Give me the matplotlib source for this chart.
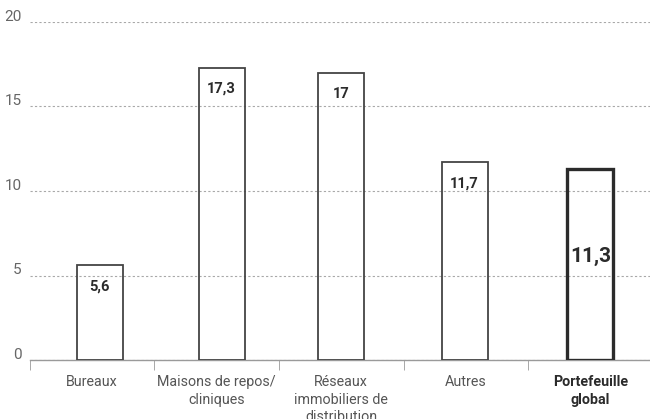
import numpy as np
import matplotlib.pyplot as plt
from matplotlib.transforms import ScaledTranslation

plt.rcParams['font.family'] = ['Roboto', 'DejaVu Sans']

categories = ["Bureaux", "Maisons de repos/\ncliniques", "Réseaux\nimmobiliers de\ndistribution", "Autres", "Portefeuille\nglobal"]
values = [5.6, 17.3, 17.0, 11.7, 11.3]
value_labels = ["5,6", "17,3", "17", "11,7", "11,3"]

fig = plt.figure(figsize=(6.5, 4.19), dpi=100)
ax = fig.add_axes([0.046, 0.1408, 0.958, 0.8067])

x = np.arange(len(categories))
# les barres ne sont pas tout à fait centrées dans leurs colonnes
shift = np.array([0.06, 0.04, 0.0, -0.01, 0.0])
edge_w = [1.3, 1.3, 1.3, 1.3, 2.4]
edge_c = ['#444444'] * 4 + ['#2b2b2b']
ax.bar(x + shift, values, width=0.37, facecolor='none', edgecolor=edge_c, linewidth=edge_w, zorder=3)

# étiquettes de valeur
for i, (v, lab) in enumerate(zip(values, value_labels)):
    if i == len(values) - 1:
        ax.text(i + shift[i], v / 2 + 0.45, lab, ha='center', va='center', fontsize=15, fontweight='bold', color='#2b2b2b')
    else:
        ax.annotate(lab, (i + shift[i], v), xytext=(0, -15), textcoords='offset points',
                    ha='center', va='center', fontsize=10.5, fontweight='bold', color='#2b2b2b')

ax.set_xlim(-0.5, 4.5)
ax.set_ylim(0, 20)
ax.set_yticks([0, 5, 10, 15, 20])
ax.yaxis.grid(True, linestyle=(0, (2, 2)), color='#a8a8a8', linewidth=0.8)
ax.set_axisbelow(False)

for s in ['left', 'right', 'top']:
    ax.spines[s].set_visible(False)
ax.spines['bottom'].set_color('#9a9a9a')
ax.spines['bottom'].set_linewidth(1)

ax.set_xticks(x)
ax.set_xticklabels(categories, fontsize=10.3, color='#555555', linespacing=1.3)
ax.get_xticklabels()[-1].set_fontweight('bold')
ax.get_xticklabels()[-1].set_color('#2b2b2b')
ax.set_xticks(np.arange(-0.5, 4.0, 1), minor=True)
ax.tick_params(axis='x', which='major', length=0, pad=11)
ax.tick_params(axis='x', which='minor', length=7, color='#9a9a9a', direction='out')
ax.tick_params(axis='y', length=0, pad=6, labelsize=11, labelcolor='#666666')

off = ScaledTranslation(0, 5 / 72, fig.dpi_scale_trans)
for lab in ax.get_yticklabels():
    lab.set_transform(lab.get_transform() + off)

fig.savefig("out.png", dpi=100)
